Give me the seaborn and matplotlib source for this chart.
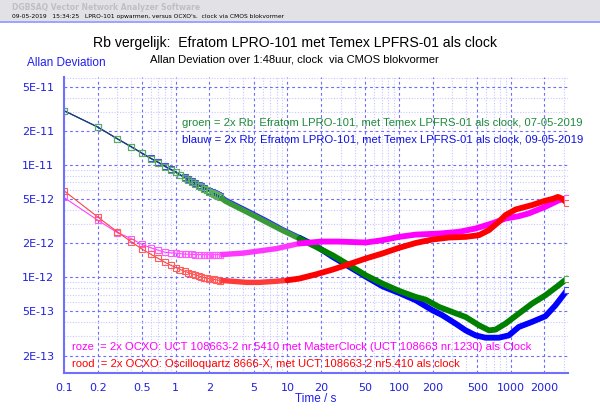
import matplotlib
matplotlib.use('Agg')
import matplotlib.pyplot as plt
import seaborn as sns
from matplotlib.ticker import FixedLocator, FixedFormatter, NullFormatter
from matplotlib.patches import Rectangle

# ---------------------------------------------------------------
# Allan deviation values, unit 1E-12
# ---------------------------------------------------------------
# first taus, every 0.1 s -> still visible as single open squares
tau_start = [0.1, 0.2, 0.3, 0.4, 0.5, 0.6, 0.7, 0.8, 0.9, 1.0,
             1.1, 1.2, 1.3, 1.4, 1.5, 1.6, 1.7, 1.8, 1.9, 2.0,
             2.1, 2.2, 2.3, 2.4, 2.5]
groen_start = [30.5, 21.8, 17.1, 14.5, 12.7, 11.4, 10.5, 9.7, 9.1, 8.6,
               8.1, 7.7, 7.35, 7.05, 6.8, 6.55, 6.35, 6.15, 5.95, 5.8,
               5.65, 5.5, 5.38, 5.26, 5.15]
blauw_start = [30.6, 21.9, 17.2, 14.6, 12.8, 11.5, 10.6, 9.8, 9.2, 8.7,
               8.2, 7.8, 7.45, 7.15, 6.9, 6.65, 6.45, 6.25, 6.05, 5.9,
               5.75, 5.6, 5.48, 5.36, 5.25]
roze_start = [5.14, 3.23, 2.5, 2.21, 1.96, 1.83, 1.74, 1.67, 1.65, 1.64,
              1.62, 1.61, 1.60, 1.60, 1.59, 1.59, 1.59, 1.59, 1.59, 1.59,
              1.59, 1.59, 1.59, 1.59, 1.59]
rood_start = [5.9, 3.45, 2.54, 2.07, 1.78, 1.6, 1.47, 1.36, 1.28, 1.22,
              1.17, 1.13, 1.10, 1.07, 1.05, 1.03, 1.01, 0.99, 0.98, 0.97,
              0.96, 0.955, 0.95, 0.94, 0.935]

# longer taus, points so dense they merge into a thick band
tau_groen = [2.5, 2.8, 4.3, 6.4, 9, 12.8, 18, 25.4, 35.8, 50.4, 71, 100, 141,
             173, 228, 299, 394, 518, 637, 730, 896, 1178, 1550, 2040, 2685, 3184]
groen = [5.15, 4.75, 3.83, 3.12, 2.62, 2.21, 1.87, 1.57, 1.28, 1.04, 0.877,
         0.755, 0.667, 0.631, 0.543, 0.49, 0.442, 0.373, 0.336, 0.341, 0.386,
         0.474, 0.582, 0.69, 0.849, 0.973]
tau_blauw = [2.5, 2.8, 4.3, 6.4, 9, 12.8, 18, 25.4, 35.8, 50.4, 71, 100, 141,
             199, 244, 320, 394, 484, 594, 781, 960, 1178, 1550, 2040, 2510, 3184]
blauw = [5.25, 4.85, 3.92, 3.2, 2.66, 2.25, 1.9, 1.52, 1.24, 1.01, 0.83,
         0.724, 0.623, 0.507, 0.458, 0.386, 0.336, 0.303, 0.289, 0.289, 0.303,
         0.36, 0.40, 0.449, 0.562, 0.765]
tau_roze = [2.5, 4.0, 8, 12.8, 20.2, 28.5, 50.4, 71, 100, 141, 228, 343, 484,
            679, 896, 1178, 1440, 2040, 2685, 3184]
roze = [1.59, 1.64, 1.80, 2.0, 2.08, 2.08, 2.04, 2.14, 2.29, 2.40, 2.45, 2.54,
        2.72, 3.02, 3.34, 3.5, 3.7, 4.25, 4.85, 5.04]
tau_rood = [2.5, 2.8, 4.3, 5.6, 7.9, 10, 12.8, 18, 25.4, 35.8, 50.4, 71, 100,
            141, 199, 280, 394, 518, 637, 781, 896, 1105, 1550, 2020, 2380,
            2640, 2900, 3184]
rood = [0.935, 0.93, 0.90, 0.90, 0.92, 0.94, 0.973, 1.06, 1.17, 1.31, 1.47,
        1.63, 1.83, 2.02, 2.17, 2.26, 2.29, 2.37, 2.63, 3.12, 3.58, 4.02, 4.40,
        4.8, 5.0, 5.2, 5.0, 4.6]

x_major = [0.1, 0.2, 0.5, 1, 2, 5, 10, 20, 50, 100, 200, 500, 1000, 2000]
x_labels = ['0.1', '0.2', '0.5', '1', '2', '5', '10', '20', '50', '100',
            '200', '500', '1000', '2000']
y_major = [2e-13, 5e-13, 1e-12, 2e-12, 5e-12, 1e-11, 2e-11, 5e-11]
y_labels = ['2E-13', '5E-13', '1E-12', '2E-12', '5E-12', '1E-11', '2E-11', '5E-11']

E = 1e-12

sns.set_style('white')
plt.rcParams['font.family'] = ['DejaVu Sans']

fig = plt.figure(figsize=(6, 4.2), dpi=100)
ax = fig.add_axes([64/600, 1-373/420, 504/600, 296/420])

# (start values, band taus, band values, band color, early band color, square color, thin line color)
curves = [
    (blauw_start, tau_blauw, blauw, '#0000ff', '#2626ff', '#4a4aff', '#0000c0'),
    (groen_start, tau_groen, groen, '#008000', '#3a9a3a', '#58b058', '#1a4a6a'),
    (roze_start, tau_roze, roze, '#ff00ff', '#ff38ff', '#ff5cff', '#ff40ff'),
    (rood_start, tau_rood, rood, '#ff0000', '#ff3a3a', '#ff5c5c', '#ff4040'),
]
for start, tb, vb, col, col2, sq, lc in curves:
    sns.lineplot(x=tau_start, y=[v*E for v in start], ax=ax, color=lc, lw=0.8,
                 marker='s', markersize=4.5, markerfacecolor='none',
                 markeredgecolor=sq, markeredgewidth=0.8)
    # where the squares just overlap (< ~9 s) the band looks a bit lighter
    n = sum(t <= 9 for t in tb)
    sns.lineplot(x=tb[:n+1], y=[v*E for v in vb[:n+1]], ax=ax, color=col2, lw=3.9,
                 solid_capstyle='butt', solid_joinstyle='round')
    sns.lineplot(x=tb[n:], y=[v*E for v in vb[n:]], ax=ax, color=col, lw=4.2,
                 solid_capstyle='round', solid_joinstyle='round')
    ax.plot(tb[-1], vb[-1]*E, marker='s', markersize=4.5, markerfacecolor='white',
            markeredgecolor=sq, markeredgewidth=0.8, zorder=5)

ax.set_xscale('log')
ax.set_yscale('log')
ax.set_xlim(0.1, 3250)
ax.set_ylim(1.4e-13, 6.1e-11)

x_minor = [m*d for d in [0.1, 1, 10, 100, 1000] for m in range(2, 10)
           if m not in (2, 5) and m*d < 3250]
y_minor = [m*d for d in [1e-13, 1e-12, 1e-11] for m in range(1, 10)
           if m not in (1, 2, 5) and 1.4e-13 < m*d < 6.2e-11]
ax.xaxis.set_major_locator(FixedLocator(x_major))
ax.xaxis.set_major_formatter(FixedFormatter(x_labels))
ax.xaxis.set_minor_locator(FixedLocator(x_minor))
ax.xaxis.set_minor_formatter(NullFormatter())
ax.yaxis.set_major_locator(FixedLocator(y_major))
ax.yaxis.set_major_formatter(FixedFormatter(y_labels))
ax.yaxis.set_minor_locator(FixedLocator(y_minor))
ax.yaxis.set_minor_formatter(NullFormatter())

ax.grid(which='major', color='#6c6cff', linestyle=(0, (2.5, 2.5)), lw=0.8)
ax.grid(which='minor', color='#c8c8ff', linestyle=(0, (1, 1.5)), lw=0.8)
ax.set_axisbelow(True)

ax.spines['top'].set_visible(False)
ax.spines['right'].set_visible(False)
for s in ['left', 'bottom']:
    ax.spines[s].set_color('#7070ff')
    ax.spines[s].set_linewidth(1.5)
ax.tick_params(which='major', direction='out', length=5, width=1, color='#7070ff',
               labelcolor='#2020e0', labelsize=8, pad=2)
ax.tick_params(which='minor', direction='out', length=3, width=1, color='#7070ff')
ax.set_xlabel('')
ax.set_ylabel('')

# header band
fig.patches.append(Rectangle((0, 1-21/420), 1, 21/420, transform=fig.transFigure,
                             facecolor='#e2e2e6', edgecolor='none', zorder=0))
fig.add_artist(plt.Line2D([0, 1], [1-21.5/420, 1-21.5/420], transform=fig.transFigure,
                          color='#9090ff', lw=1.2))
fig.text(12/600, 1-7/420, 'DGBSAQ Vector Network Analyzer Software', fontsize=5.5,
         color='#c0c0c4', fontweight='bold', va='center', ha='left')
fig.text(12/600, 1-16.5/420,
         "09-05-2019   15:34:25   LPRO-101 opwarmen, versus OCXO's.  clock via CMOS blokvormer",
         fontsize=4.3, color='black', va='center', ha='left')

fig.text(295/600, 1-43/420,
         'Rb vergelijk:  Efratom LPRO-101 met Temex LPFRS-01 als clock',
         fontsize=10.05, color='black', ha='center', va='center',
         family='Liberation Sans')
fig.text(294/600, 1-59/420,
         'Allan Deviation over 1:48uur, clock  via CMOS blokvormer',
         fontsize=8.15, color='black', ha='center', va='center',
         family='Liberation Sans')
fig.text(27/600, 1-63/420, 'Allan Deviation', fontsize=8.5, color='#2020f0',
         ha='left', va='center', family='Liberation Sans')
fig.text(316/600, 1-399/420, 'Time / s', fontsize=8.5, color='#2020f0',
         ha='center', va='center', family='Liberation Sans')

fs = 8.15
fig.text(182/600, 1-123/420,
         'groen = 2x Rb: Efratom LPRO-101, met Temex LPFRS-01 als clock, 07-05-2019',
         fontsize=fs, color='#1e8a3c', ha='left', va='center', family='Liberation Sans')
fig.text(182/600, 1-139/420,
         'blauw = 2x Rb: Efratom LPRO-101, met Temex LPFRS-01 als clock, 09-05-2019',
         fontsize=fs, color='#1010e0', ha='left', va='center', family='Liberation Sans')
fig.text(72/600, 1-347/420,
         'roze  = 2x OCXO: UCT 108663-2 nr.5410 met MasterClock (UCT 108663 nr.1230) als Clock',
         fontsize=fs, color='#ff00ff', ha='left', va='center', family='Liberation Sans')
fig.text(72/600, 1-364/420,
         'rood  = 2x OCXO: Oscilloquartz 8666-X, met UCT 108663-2 nr5.410 als clock',
         fontsize=fs, color='#ff0000', ha='left', va='center', family='Liberation Sans')

fig.savefig('out.png', dpi=100)
